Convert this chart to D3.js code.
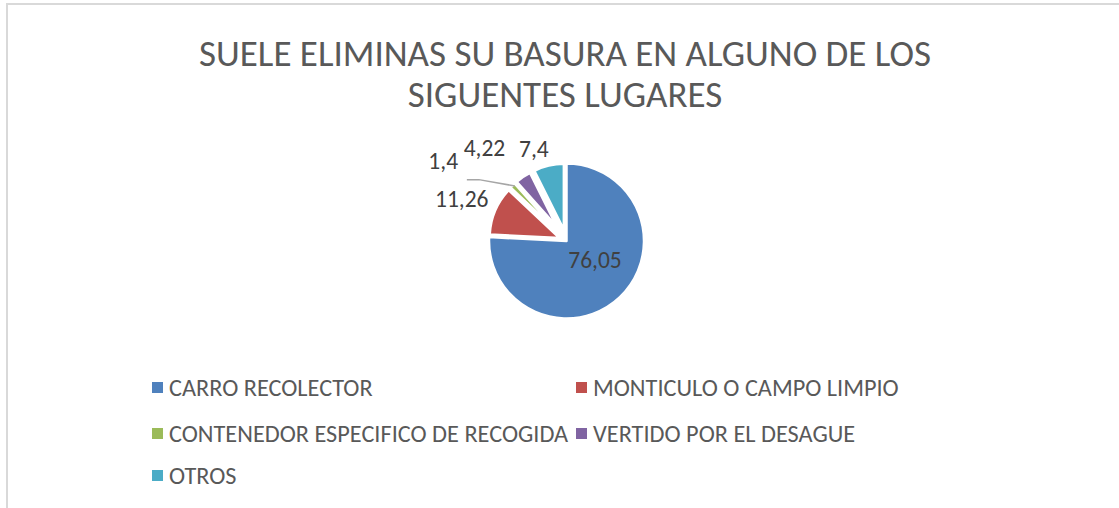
<!DOCTYPE html>
<html>
<head>
<meta charset="utf-8">
<script src="https://cdn.jsdelivr.net/npm/d3@7"></script>
<style>
  html, body { margin: 0; padding: 0; background: #fff; }
  svg { display: block; font-family: Carlito, Calibri, Lato, sans-serif; }
</style>
</head>
<body>
<svg id="chart" width="1119" height="508"></svg>
<script>
const titleLines = ["SUELE ELIMINAS SU BASURA EN ALGUNO DE LOS", "SIGUENTES LUGARES"];
const categories = ["CARRO RECOLECTOR", "MONTICULO O CAMPO LIMPIO", "CONTENEDOR ESPECIFICO DE RECOGIDA", "VERTIDO POR EL DESAGUE", "OTROS"];
const values = [76.05, 11.26, 1.4, 4.22, 7.4];
const labels = ["76,05", "11,26", "1,4", "4,22", "7,4"];
const colors = ["#4F81BD", "#C0504D", "#9BBB59", "#8064A2", "#4BACC6"];

// explode distance per slice and label placement (deg, radius)
const explode = [0, 7.5, 12, 17, 11.5];
const labelPolar = [[123, 34], [292, 113], [303, 147], [318.6, 124], [340.6, 98]];

const svg = d3.select("#chart");
const W = 1119, H = 508;
const cx = 566.5, cy = 241, R = 77.5;
const rad = d => d * Math.PI / 180;
const polar = (deg, r) => [cx + r * Math.sin(rad(deg)), cy - r * Math.cos(rad(deg))];

// outer frame
svg.append("rect")
  .attr("x", 7).attr("y", 4)
  .attr("width", W + 20).attr("height", H + 20)
  .attr("fill", "none")
  .attr("stroke", "#d9d9d9")
  .attr("stroke-width", 2);

// title
svg.append("text")
  .attr("x", 565)
  .attr("text-anchor", "middle")
  .attr("fill", "#595959")
  .attr("font-size", "37px")
  .selectAll("tspan")
  .data(titleLines)
  .enter().append("tspan")
  .attr("x", 565)
  .attr("y", (d, i) => 66 + i * 41)
  .text(d => d);

// pie
const pie = d3.pie().sort(null).value(d => d)(values);

const g = svg.append("g");
g.selectAll("path")
  .data(pie)
  .enter()
  .append("path")
  .attr("transform", (d, i) => {
    const mid = (d.startAngle + d.endAngle) / 2;
    return `translate(${cx + explode[i] * Math.sin(mid)},${cy - explode[i] * Math.cos(mid)})`;
  })
  .attr("d", (d, i) => d3.arc().innerRadius(0).outerRadius(R - explode[i])(d))
  .attr("fill", (d, i) => colors[i])
  .attr("stroke", "#fff")
  .attr("stroke-width", 2.5)
  .attr("stroke-linejoin", "round");

// leader line for the small slice
const gMid = (pie[2].startAngle + pie[2].endAngle) / 2 * 180 / Math.PI;
const tip = polar(gMid + 1, R - 2);
const elbow = polar(305, 107);
svg.append("polyline")
  .attr("points", [[elbow[0] - 12, elbow[1]], elbow, tip].map(p => p.join(",")).join(" "))
  .attr("fill", "none")
  .attr("stroke", "#a6a6a6")
  .attr("stroke-width", 1.5);

// data labels
svg.selectAll("text.lbl")
  .data(labels)
  .enter()
  .append("text")
  .attr("class", "lbl")
  .attr("x", (d, i) => polar(...labelPolar[i])[0])
  .attr("y", (d, i) => polar(...labelPolar[i])[1])
  .attr("text-anchor", "middle")
  .attr("dominant-baseline", "central")
  .attr("fill", "#404040")
  .attr("font-size", "23.5px")
  .text(d => d);

// legend
const legendX = [152, 576];
const legendY = [388, 434, 476];
const leg = svg.selectAll("g.leg")
  .data(categories)
  .enter()
  .append("g")
  .attr("class", "leg")
  .attr("transform", (d, i) => `translate(${legendX[i % 2]},${legendY[Math.floor(i / 2)]})`);

leg.append("rect")
  .attr("x", 0).attr("y", -6)
  .attr("width", 11).attr("height", 11)
  .attr("fill", (d, i) => colors[i]);

leg.append("text")
  .attr("x", 17)
  .attr("dominant-baseline", "central")
  .attr("fill", "#595959")
  .attr("font-size", "24.3px")
  .text(d => d);
</script>
</body>
</html>
